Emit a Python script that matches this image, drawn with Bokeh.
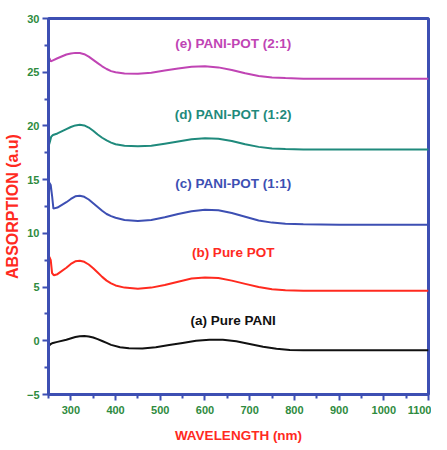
from bokeh.plotting import figure
from bokeh.models import FixedTicker, Label
from bokeh.embed import file_html
from bokeh.resources import INLINE

# (a) Pure PANI
wl_a = [250, 255, 260, 270, 290, 310, 320, 330, 340, 350, 360, 370, 380, 390, 410, 430, 460, 490, 520, 550, 580, 610, 640, 670, 700, 730, 760, 790, 820, 900, 1000, 1100]
ab_a = [-0.5, -0.3, -0.2, -0.1, 0.1, 0.35, 0.43, 0.45, 0.4, 0.3, 0.15, -0.02, -0.2, -0.38, -0.6, -0.7, -0.72, -0.6, -0.4, -0.2, 0.0, 0.1, 0.1, -0.05, -0.3, -0.55, -0.75, -0.85, -0.88, -0.88, -0.88, -0.88]
# (b) Pure POT
wl_b = [250, 252, 255, 258, 262, 270, 290, 300, 310, 320, 330, 340, 350, 360, 370, 380, 390, 400, 420, 450, 480, 510, 540, 570, 600, 630, 660, 690, 720, 750, 780, 820, 900, 1000, 1100]
ab_b = [6.8, 7.8, 7.5, 6.3, 6.1, 6.2, 6.8, 7.15, 7.4, 7.45, 7.35, 7.1, 6.75, 6.35, 5.95, 5.6, 5.35, 5.15, 4.95, 4.85, 4.95, 5.2, 5.5, 5.8, 5.9, 5.85, 5.6, 5.3, 5.0, 4.8, 4.7, 4.65, 4.65, 4.65, 4.65]
# (c) PANI-POT (1:1)
wl_c = [250, 252, 255, 258, 261, 270, 290, 300, 310, 320, 330, 340, 350, 360, 370, 380, 390, 400, 420, 450, 480, 510, 540, 570, 600, 630, 660, 690, 720, 750, 780, 820, 900, 1100]
ab_c = [12.5, 14.7, 14.5, 13.5, 12.3, 12.4, 12.9, 13.2, 13.45, 13.5, 13.4, 13.15, 12.8, 12.45, 12.1, 11.8, 11.6, 11.45, 11.25, 11.15, 11.25, 11.5, 11.8, 12.05, 12.2, 12.15, 11.9, 11.55, 11.2, 11.0, 10.9, 10.85, 10.8, 10.8]
# (d) PANI-POT (1:2)
wl_d = [250, 253, 256, 260, 270, 290, 300, 310, 320, 330, 340, 350, 360, 370, 380, 390, 400, 420, 450, 480, 510, 540, 570, 600, 630, 660, 690, 720, 750, 780, 820, 1100]
ab_d = [18.1, 18.5, 19.0, 19.15, 19.3, 19.7, 19.9, 20.05, 20.1, 20.05, 19.85, 19.55, 19.2, 18.9, 18.65, 18.45, 18.3, 18.15, 18.1, 18.15, 18.35, 18.55, 18.75, 18.85, 18.8, 18.6, 18.3, 18.05, 17.9, 17.85, 17.8, 17.8]
# (e) PANI-POT (2:1)
wl_e = [250, 252, 255, 260, 270, 290, 300, 310, 320, 330, 340, 350, 360, 370, 380, 390, 400, 420, 450, 480, 510, 540, 570, 600, 630, 660, 690, 720, 750, 780, 820, 1100]
ab_e = [25.8, 26.3, 26.0, 26.1, 26.3, 26.65, 26.75, 26.8, 26.78, 26.68, 26.45, 26.15, 25.85, 25.55, 25.3, 25.1, 25.0, 24.88, 24.85, 24.95, 25.15, 25.35, 25.5, 25.55, 25.45, 25.2, 24.9, 24.65, 24.5, 24.45, 24.4, 24.4]

labels = ["(a) Pure PANI", "(b) Pure POT", "(c) PANI-POT (1:1)", "(d) PANI-POT (1:2)", "(e) PANI-POT (2:1)"]
label_y = [1.9, 8.2, 14.6, 21.05, 27.7]
label_x = [663, 663, 663, 663, 663]
colors = ["#111111", "#ff2a1f", "#3d4fb3", "#1f8a7c", "#c044b4"]

x_ticks = [300, 400, 500, 600, 700, 800, 900, 1000, 1100]
x_minor = [250, 350, 450, 550, 650, 750, 850, 950, 1050]
y_ticks = [-5, 0, 5, 10, 15, 20, 25, 30]
y_minor = [-2.5, 2.5, 7.5, 12.5, 17.5, 22.5, 27.5]

axis_blue = "#3d4fb3"
tick_green = "#2e8b3e"
title_red = "#ff2a1f"
font = "Liberation Sans"

p = figure(width=431, height=445, output_backend="svg", toolbar_location=None,
           x_range=(250, 1100), y_range=(-5, 30),
           min_border_left=38, min_border_right=3, min_border_top=18, min_border_bottom=48)
p.grid.visible = False
p.outline_line_color = axis_blue
p.outline_line_width = 3
p.background_fill_color = "white"
p.border_fill_color = "white"

series = [(wl_a, ab_a), (wl_b, ab_b), (wl_c, ab_c), (wl_d, ab_d), (wl_e, ab_e)]
for (xs, ys), c in zip(series, colors):
    p.line(xs, ys, line_color=c, line_width=2)

for txt, lx, ly, c in zip(labels, label_x, label_y, colors):
    p.add_layout(Label(x=lx, y=ly, text=txt, text_color=c, text_font=font,
                       text_font_style="bold", text_font_size="13.5px",
                       text_align="center", text_baseline="middle"))

p.xaxis.ticker = FixedTicker(ticks=x_ticks, minor_ticks=x_minor)
p.yaxis.ticker = FixedTicker(ticks=y_ticks, minor_ticks=y_minor)
for ax in (p.xaxis, p.yaxis):
    ax.axis_line_color = axis_blue
    ax.axis_line_width = 3
    ax.major_tick_line_color = axis_blue
    ax.minor_tick_line_color = axis_blue
    ax.major_tick_line_width = 2
    ax.minor_tick_line_width = 2
    ax.major_tick_in = 0
    ax.major_tick_out = 6
    ax.minor_tick_in = 0
    ax.minor_tick_out = 4
    ax.major_label_text_color = tick_green
    ax.major_label_text_font = font
    ax.major_label_text_font_style = "bold"
    ax.major_label_text_font_size = "11px"
    ax.axis_label_text_color = title_red
    ax.axis_label_text_font = font
    ax.axis_label_text_font_style = "bold"
p.xaxis.axis_label_text_font_size = "13.5px"
p.yaxis.axis_label_text_font_size = "16px"
p.xaxis.axis_label = "WAVELENGTH (nm)"
p.yaxis.axis_label = "ABSORPTION (a.u)"
p.xaxis.major_label_standoff = 5
p.yaxis.major_label_standoff = 3
p.xaxis.axis_label_standoff = 11
p.yaxis.axis_label_standoff = 3

open("out.html", "w").write(file_html(p, INLINE))
